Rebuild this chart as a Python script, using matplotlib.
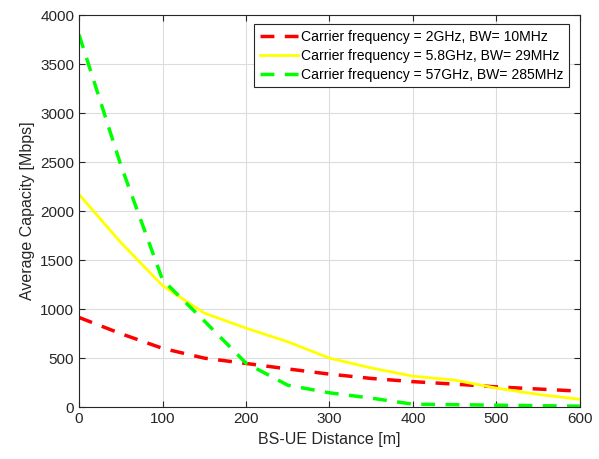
import matplotlib
matplotlib.use("Agg")
import matplotlib.pyplot as plt

plt.rcParams['font.family'] = ['Liberation Sans', 'DejaVu Sans']

distance = [0, 50, 100, 150, 200, 250, 300, 350, 400, 450, 500, 550, 600]
cap_2ghz = [915, 750, 600, 500, 446, 390, 337, 293, 260, 235, 207, 185, 163]
cap_58ghz = [2170, 1680, 1240, 960, 806, 667, 500, 400, 316, 276, 194, 130, 80]
cap_57ghz = [3800, 2470, 1300, 880, 449, 224, 146, 92, 30, 25, 20, 15, 10]

labels = [
    'Carrier frequency = 2GHz, BW= 10MHz',
    'Carrier frequency = 5.8GHz, BW= 29MHz',
    'Carrier frequency = 57GHz, BW= 285MHz',
]

fig = plt.figure(figsize=(5.99, 4.59), dpi=100)
ax = fig.add_axes([0.132, 0.113, 0.836, 0.854])

ax.plot(distance, cap_2ghz, color='#ff0000', linestyle=(0, (4, 3)), linewidth=2.5, label=labels[0])
ax.plot(distance, cap_58ghz, color='#ffff00', linestyle='-', linewidth=2.0, label=labels[1])
ax.plot(distance, cap_57ghz, color='#00ff00', linestyle=(0, (4, 3)), linewidth=2.5, label=labels[2])

ax.set_xlim(0, 600)
ax.set_ylim(0, 4000)
ax.set_xticks(range(0, 601, 100))
ax.set_yticks(range(0, 4001, 500))
ax.grid(True, color='#dcdcdc', linewidth=0.8)
ax.set_axisbelow(True)
ax.tick_params(direction='in', length=4, labelsize=11, colors='#262626', top=True, right=True)
for s in ax.spines.values():
    s.set_color('#262626')
    s.set_linewidth(0.8)

ax.set_xlabel('BS-UE Distance [m]', fontsize=11.5, color='#262626')
ax.set_ylabel('Average Capacity [Mbps]', fontsize=11.5, color='#262626')

leg = ax.legend(loc='upper right', bbox_to_anchor=(0.978, 0.977), fontsize=10.1,
                fancybox=False, framealpha=1, edgecolor='#262626',
                handlelength=2.7, handletextpad=0.2, borderpad=0.4, labelspacing=0.35,
                borderaxespad=0)
leg.get_frame().set_linewidth(0.8)

fig.savefig('out.png', dpi=100)
